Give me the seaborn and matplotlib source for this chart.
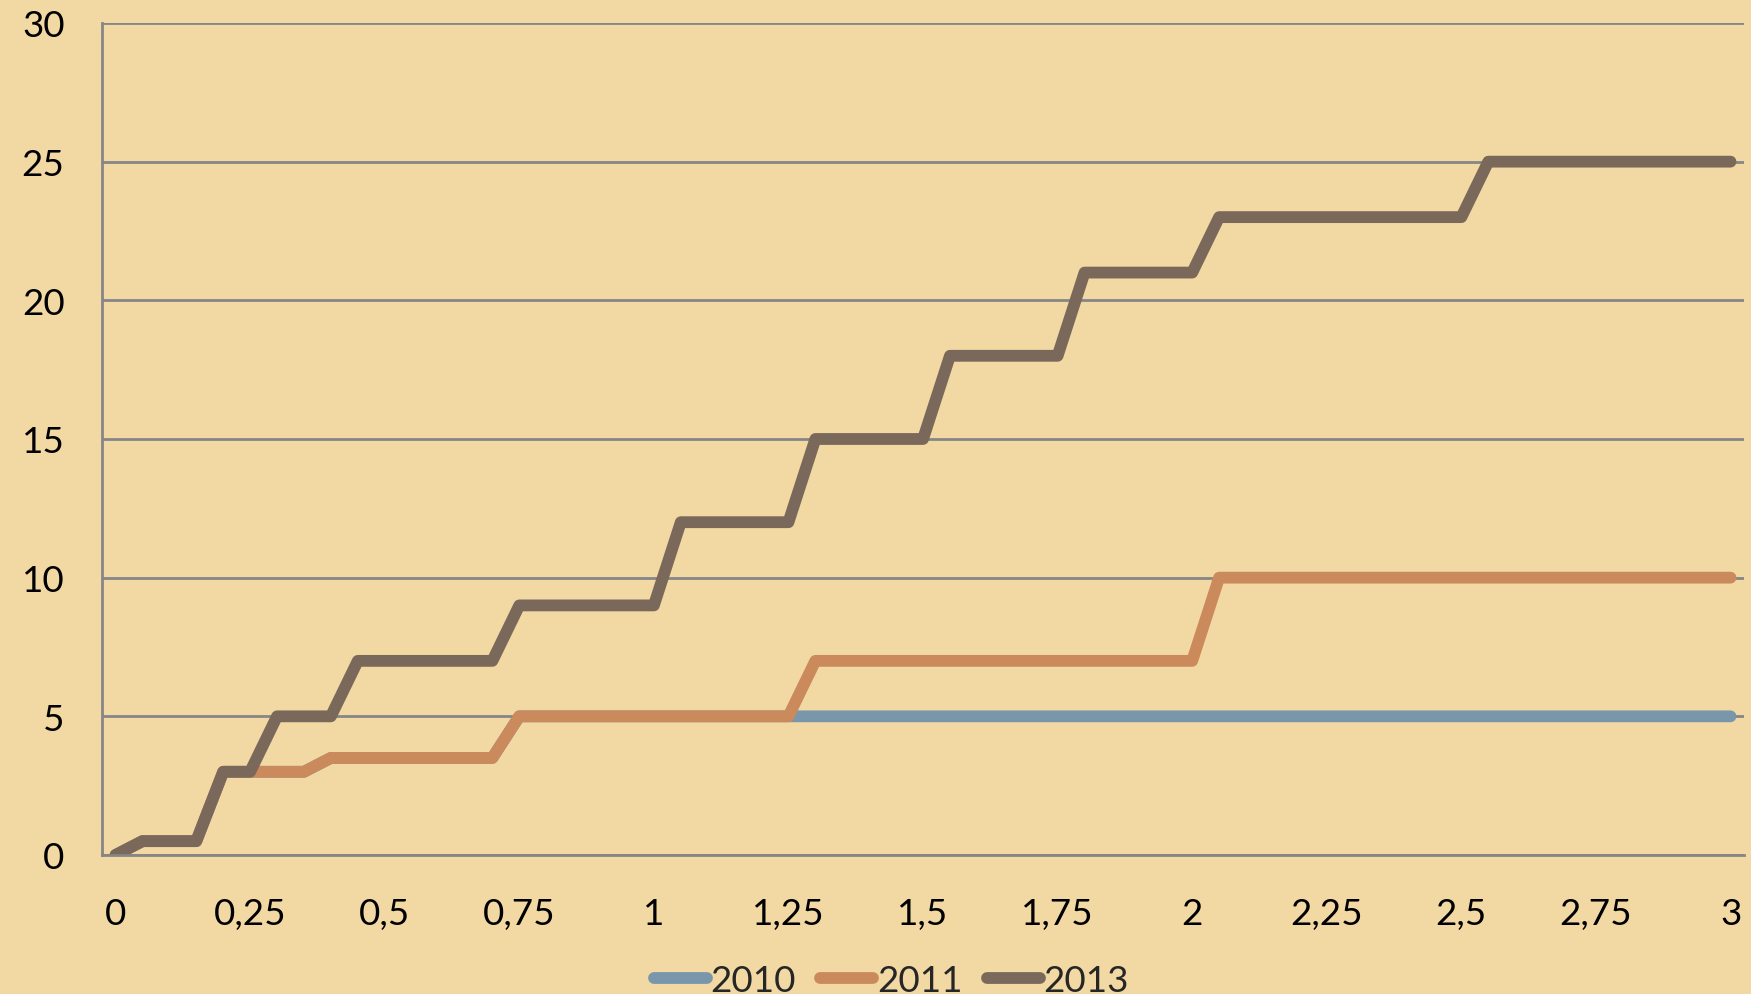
import matplotlib.pyplot as plt
import pandas as pd
import seaborn as sns

# category labels on the x axis (0 .. 3 in steps of 0,05)
categories = [
    "0", "0,05", "0,1", "0,15", "0,2", "0,25", "0,3", "0,35", "0,4", "0,45",
    "0,5", "0,55", "0,6", "0,65", "0,7", "0,75", "0,8", "0,85", "0,9", "0,95",
    "1", "1,05", "1,1", "1,15", "1,2", "1,25", "1,3", "1,35", "1,4", "1,45",
    "1,5", "1,55", "1,6", "1,65", "1,7", "1,75", "1,8", "1,85", "1,9", "1,95",
    "2", "2,05", "2,1", "2,15", "2,2", "2,25", "2,3", "2,35", "2,4", "2,45",
    "2,5", "2,55", "2,6", "2,65", "2,7", "2,75", "2,8", "2,85", "2,9", "2,95",
    "3",
]

values_2010 = [
    0, 0.5, 0.5, 0.5, 3, 3, 3, 3, 3.5, 3.5,
    3.5, 3.5, 3.5, 3.5, 3.5, 5, 5, 5, 5, 5,
    5, 5, 5, 5, 5, 5, 5, 5, 5, 5,
    5, 5, 5, 5, 5, 5, 5, 5, 5, 5,
    5, 5, 5, 5, 5, 5, 5, 5, 5, 5,
    5, 5, 5, 5, 5, 5, 5, 5, 5, 5,
    5,
]

values_2011 = [
    0, 0.5, 0.5, 0.5, 3, 3, 3, 3, 3.5, 3.5,
    3.5, 3.5, 3.5, 3.5, 3.5, 5, 5, 5, 5, 5,
    5, 5, 5, 5, 5, 5, 7, 7, 7, 7,
    7, 7, 7, 7, 7, 7, 7, 7, 7, 7,
    7, 10, 10, 10, 10, 10, 10, 10, 10, 10,
    10, 10, 10, 10, 10, 10, 10, 10, 10, 10,
    10,
]

values_2013 = [
    0, 0.5, 0.5, 0.5, 3, 3, 5, 5, 5, 7,
    7, 7, 7, 7, 7, 9, 9, 9, 9, 9,
    9, 12, 12, 12, 12, 12, 15, 15, 15, 15,
    15, 18, 18, 18, 18, 18, 21, 21, 21, 21,
    21, 23, 23, 23, 23, 23, 23, 23, 23, 23,
    23, 25, 25, 25, 25, 25, 25, 25, 25, 25,
    25,
]

series = {"2010": values_2010, "2011": values_2011, "2013": values_2013}
colors = {"2010": "#7A96AB", "2011": "#CB8A5C", "2013": "#7A685B"}

rows = []
for name, vals in series.items():
    for i, v in enumerate(vals):
        rows.append({"pos": i, "value": v, "year": name})
df = pd.DataFrame(rows)

bg = "#F2D9A3"
grey = "#868686"

sns.set_style("white")
plt.rcParams["font.family"] = ["Lato", "DejaVu Sans"]

fig = plt.figure(figsize=(17.51, 9.95), dpi=100, facecolor=bg)
ax = fig.add_axes([0.0583, 0.1397, 0.9377, 0.8362])
ax.set_facecolor(bg)

sns.lineplot(
    data=df, x="pos", y="value", hue="year", palette=colors,
    linewidth=8.5, ax=ax, legend=False,
    solid_capstyle="round", solid_joinstyle="round",
)

n = len(categories)
ax.set_xlim(-0.5, n - 0.5)
ax.set_ylim(0, 30)

# labels every 0,25, tick marks at every category boundary
ax.set_xticks(range(0, n, 5))
ax.set_xticklabels([categories[i] for i in range(0, n, 5)])
ax.set_xticks([i - 0.5 for i in range(n + 1)], minor=True)
ax.tick_params(axis="x", which="major", length=0, pad=30, labelsize=26.5, colors="black")
ax.tick_params(axis="x", which="minor", length=9, width=2, color=grey, direction="out")

ax.set_yticks([0, 5, 10, 15, 20, 25, 30])
ax.tick_params(axis="y", length=9, width=2, color=grey, pad=18, labelsize=26.5,
               labelcolor="black", direction="out")
ax.yaxis.grid(True, color=grey, linewidth=2)
ax.set_axisbelow(True)

for side in ["top", "right"]:
    ax.spines[side].set_visible(False)
for side in ["left", "bottom"]:
    ax.spines[side].set_color(grey)
    ax.spines[side].set_linewidth(2)

ax.set_xlabel("")
ax.set_ylabel("")

handles = [plt.Line2D([], [], color=colors[k], linewidth=8.5, solid_capstyle="round")
           for k in series]
fig.legend(handles, list(series.keys()), loc="center", bbox_to_anchor=(0.509, 0.014),
           ncol=3, frameon=False, fontsize=26.5, handlelength=1.45,
           handletextpad=0.1, columnspacing=0.65)

fig.savefig("out.png", dpi=100, facecolor=bg)
